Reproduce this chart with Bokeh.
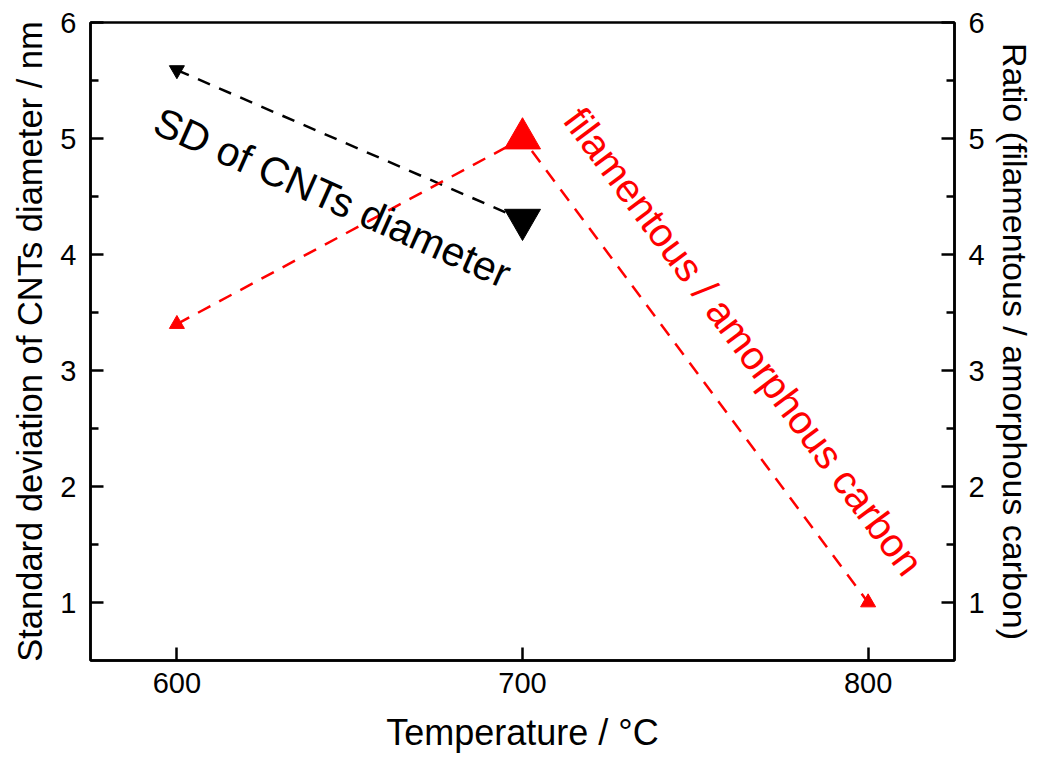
from bokeh.plotting import figure
from bokeh.models import Range1d, LinearAxis, FixedTicker, Label, ColumnDataSource
from bokeh.embed import file_html
from bokeh.resources import INLINE

# ---- data ----
sd_temps = [600, 700]
sd_values = [5.59, 4.3]
ratio_temps = [600, 700, 800]
ratio_values = [3.4, 5.0, 1.0]
x_ticks = [600, 700, 800]
y_ticks = [1, 2, 3, 4, 5, 6]
sd_sizes = [15, 36]
ratio_sizes = [15, 36, 15]

FONT = "Liberation Sans"

p = figure(width=1042, height=758, output_backend="svg", toolbar_location=None,
           x_range=Range1d(575, 825), y_range=Range1d(0.5, 6),
           min_border_left=90, min_border_right=88, min_border_top=22, min_border_bottom=98)
p.extra_y_ranges = {"ratio": Range1d(0.5, 6)}
p.xgrid.visible = False
p.ygrid.visible = False
p.outline_line_color = "black"
p.outline_line_width = 2.5
p.outline_line_alpha = 1.0
p.background_fill_color = "white"
p.border_fill_color = "white"

right = LinearAxis(y_range_name="ratio")
p.add_layout(right, "right")

for ax in [p.xaxis[0], p.yaxis[0], right]:
    ax.axis_line_width = 2.5
    ax.axis_line_color = "black"
    ax.major_tick_line_width = 2.5
    ax.minor_tick_line_width = 2.5
    ax.major_tick_in = 13
    ax.major_tick_out = 0
    ax.minor_tick_in = 8
    ax.minor_tick_out = 0
    ax.major_label_text_font = FONT
    ax.major_label_text_font_size = "29px"
    ax.major_label_text_color = "black"
    ax.major_label_standoff = 14
    ax.axis_label_text_font = FONT
    ax.axis_label_text_font_size = "34px"
    ax.axis_label_text_font_style = "normal"
    ax.axis_label_text_color = "black"
    ax.axis_label_standoff = 8

p.xaxis[0].ticker = FixedTicker(ticks=x_ticks)
p.xaxis[0].axis_label = "Temperature / °C"
p.xaxis[0].axis_label_text_font_size = "36px"
p.xaxis[0].axis_label_standoff = 16
p.xaxis[0].major_label_standoff = 12
minors = [t + 0.5 for t in y_ticks[:-1]]
p.yaxis[0].ticker = FixedTicker(ticks=y_ticks, minor_ticks=minors)
p.yaxis[0].axis_label = "Standard deviation of CNTs diameter / nm"
p.yaxis[0].axis_label_text_font_size = "34.5px"
right.ticker = FixedTicker(ticks=y_ticks, minor_ticks=minors)
right.axis_label = "Ratio (filamentous / amorphous carbon)"

sd_src = ColumnDataSource(dict(x=sd_temps, y=sd_values, s=sd_sizes))
ratio_src = ColumnDataSource(dict(x=ratio_temps, y=ratio_values, s=ratio_sizes))

p.line("x", "y", source=sd_src, line_color="black", line_width=2.5, line_dash="13 10")
p.line("x", "y", source=ratio_src, line_color="red", line_width=2.5, line_dash="14 10", y_range_name="ratio")
p.scatter("x", "y", source=sd_src, marker="inverted_triangle", size="s", fill_color="black", line_color="black")
p.scatter("x", "y", source=ratio_src, marker="triangle", size="s", fill_color="red", line_color="red", y_range_name="ratio")

p.add_layout(Label(x=645, y=4.49, text="SD of CNTs diameter", angle=-24, angle_units="deg",
                   text_align="center", text_baseline="middle", text_font=FONT,
                   text_font_size="41px", text_color="black"))
p.add_layout(Label(x=764, y=3.25, y_range_name="ratio", text="filamentous / amorphous carbon", angle=-53.3,
                   angle_units="deg", text_align="center", text_baseline="middle", text_font=FONT,
                   text_font_size="40px", text_color="red"))

open("out.html", "w").write(file_html(p, INLINE))
